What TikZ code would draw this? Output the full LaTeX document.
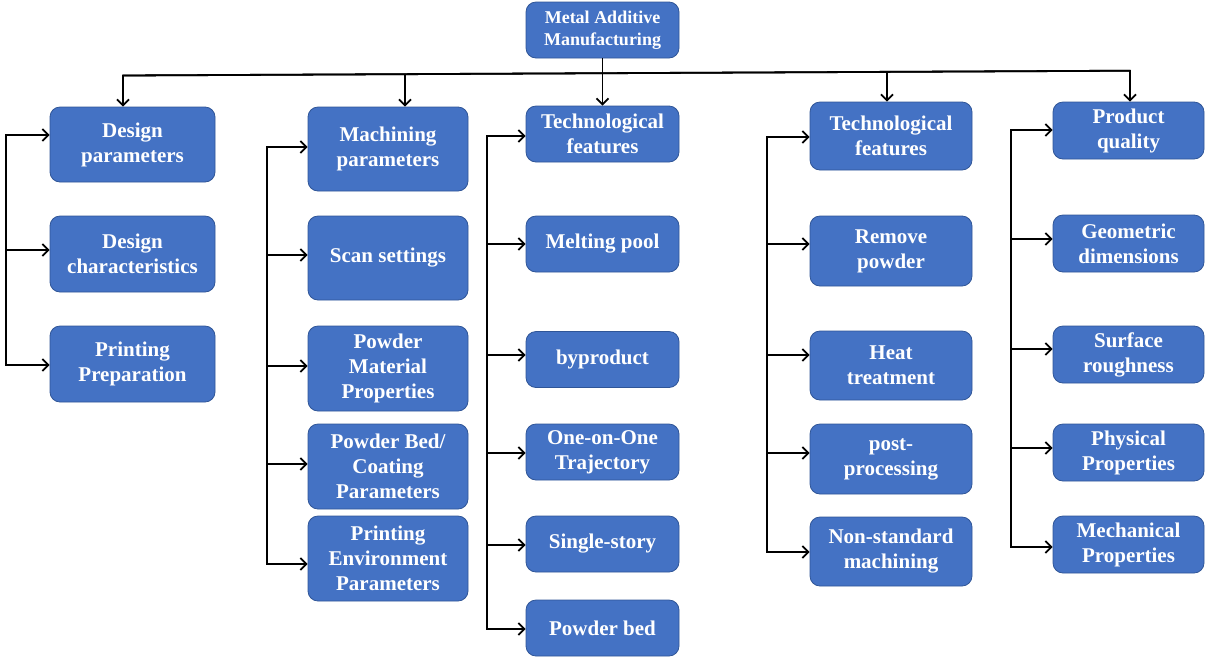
\documentclass[tikz,border=0pt]{standalone}
\usepackage{fontspec}
\setmainfont{Liberation Serif}
\usetikzlibrary{arrows.meta}
\definecolor{boxfill}{HTML}{4472C4}
\definecolor{boxline}{HTML}{2F5597}
\begin{document}
\begin{tikzpicture}[x=1pt,y=-1pt,
  box/.style={draw=boxline, line width=0.8pt, fill=boxfill, rounded corners=10pt, text=white,
    font=\bfseries\fontsize{21}{25}\selectfont, align=center, inner sep=0pt},
  topbox/.style={box, font=\bfseries\fontsize{18}{22}\selectfont},
  ln/.style={line width=1.8pt, line join=miter},
  arr/.style={ln, -{Straight Barb[length=6pt,width=12pt]}}]
\useasboundingbox (0,0) rectangle (1206,657);

% top
\node[topbox, minimum width=153pt, minimum height=56pt] (mam) at (602.5,30) {Metal Additive\\Manufacturing};

% column 1
\node[box, minimum width=165pt, minimum height=75pt] (d1) at (132.5,144.5) {Design\\parameters};
\node[box, minimum width=165pt, minimum height=76pt] (d2) at (132.5,254) {Design\\characteristics};
\node[box, minimum width=165pt, minimum height=76pt] (d3) at (132.5,364) {Printing\\Preparation};

% column 2
\node[box, minimum width=160pt, minimum height=84pt] (m1) at (388,149) {Machining\\parameters};
\node[box, minimum width=160pt, minimum height=84pt] (m2) at (388,258) {Scan settings};
\node[box, minimum width=160pt, minimum height=85pt] (m3) at (388,368.5) {Powder\\Material\\Properties};
\node[box, minimum width=160pt, minimum height=85pt] (m4) at (388,466.5) {Powder Bed/\\Coating\\Parameters};
\node[box, minimum width=160pt, minimum height=85pt] (m5) at (388,558.5) {Printing\\Environment\\Parameters};

% column 3
\node[box, minimum width=153pt, minimum height=56pt] (t1) at (602.5,134) {Technological\\features};
\node[box, minimum width=153pt, minimum height=56pt] (t2) at (602.5,244) {Melting pool};
\node[box, minimum width=153pt, minimum height=56pt] (t3) at (602.5,359.5) {byproduct};
\node[box, minimum width=153pt, minimum height=56pt] (t4) at (602.5,452) {One-on-One\\Trajectory};
\node[box, minimum width=153pt, minimum height=56pt] (t5) at (602.5,544) {Single-story};
\node[box, minimum width=153pt, minimum height=56pt] (t6) at (602.5,628) {Powder bed};

% column 4
\node[box, minimum width=162pt, minimum height=68pt] (f1) at (891,136) {Technological\\features};
\node[box, minimum width=162pt, minimum height=70pt] (f2) at (891,251) {Remove\\powder};
\node[box, minimum width=162pt, minimum height=69pt] (f3) at (891,365.5) {Heat\\treatment};
\node[box, minimum width=162pt, minimum height=70pt] (f4) at (891,459) {post-\\processing};
\node[box, minimum width=162pt, minimum height=69pt] (f5) at (891,551.5) {Non-standard\\machining};

% column 5
\node[box, minimum width=151pt, minimum height=57pt] (p1) at (1128.5,130.5) {Product\\quality};
\node[box, minimum width=151pt, minimum height=57pt] (p2) at (1128.5,243.5) {Geometric\\dimensions};
\node[box, minimum width=151pt, minimum height=57pt] (p3) at (1128.5,354.5) {Surface\\roughness};
\node[box, minimum width=151pt, minimum height=57pt] (p4) at (1128.5,452.5) {Physical\\Properties};
\node[box, minimum width=151pt, minimum height=57pt] (p5) at (1128.5,544.5) {Mechanical\\Properties};

% top distribution line
\coordinate (hl) at (123,75.5);
\coordinate (hr) at (1130,70.7);
\coordinate (h2) at (405,74.2);
\coordinate (h4) at (887,71.9);
\draw[arr] (hr) -- (hl) -- (hl |- d1.north);
\draw[arr] (hl) -- (hr) -- (hr |- p1.north);
\draw[arr] (h2) -- (h2 |- m1.north);
\draw[arr] (h4) -- (h4 |- f1.north);
\draw[arr] (mam.south) -- (t1.north);

% column 1 trunk
\coordinate (a11) at (6,135);
\coordinate (a12) at (6,250);
\coordinate (a13) at (6,365);
\draw[arr] (a13) -- (a11) -- (a11 -| d1.west);
\draw[arr] (a12) -- (a12 -| d2.west);
\draw[arr] (a11) -- (a13) -- (a13 -| d3.west);

% column 2 trunk
\coordinate (a21) at (267,147);
\coordinate (a22) at (267,255);
\coordinate (a23) at (267,366);
\coordinate (a24) at (267,464);
\coordinate (a25) at (267,564);
\draw[arr] (a25) -- (a21) -- (a21 -| m1.west);
\draw[arr] (a22) -- (a22 -| m2.west);
\draw[arr] (a23) -- (a23 -| m3.west);
\draw[arr] (a24) -- (a24 -| m4.west);
\draw[arr] (a21) -- (a25) -- (a25 -| m5.west);

% column 3 trunk
\coordinate (a31) at (487,136);
\coordinate (a32) at (487,244);
\coordinate (a33) at (487,355);
\coordinate (a34) at (487,453);
\coordinate (a35) at (487,545);
\coordinate (a36) at (487,629);
\draw[arr] (a36) -- (a31) -- (a31 -| t1.west);
\draw[arr] (a32) -- (a32 -| t2.west);
\draw[arr] (a33) -- (a33 -| t3.west);
\draw[arr] (a34) -- (a34 -| t4.west);
\draw[arr] (a35) -- (a35 -| t5.west);
\draw[arr] (a31) -- (a36) -- (a36 -| t6.west);

% column 4 trunk
\coordinate (a41) at (767,137);
\coordinate (a42) at (767,244);
\coordinate (a43) at (767,355);
\coordinate (a44) at (767,453);
\coordinate (a45) at (767,552);
\draw[arr] (a45) -- (a41) -- (a41 -| f1.west);
\draw[arr] (a42) -- (a42 -| f2.west);
\draw[arr] (a43) -- (a43 -| f3.west);
\draw[arr] (a44) -- (a44 -| f4.west);
\draw[arr] (a41) -- (a45) -- (a45 -| f5.west);

% column 5 trunk
\coordinate (a51) at (1011,130);
\coordinate (a52) at (1011,239);
\coordinate (a53) at (1011,349);
\coordinate (a54) at (1011,448);
\coordinate (a55) at (1011,547);
\draw[arr] (a55) -- (a51) -- (a51 -| p1.west);
\draw[arr] (a52) -- (a52 -| p2.west);
\draw[arr] (a53) -- (a53 -| p3.west);
\draw[arr] (a54) -- (a54 -| p4.west);
\draw[arr] (a51) -- (a55) -- (a55 -| p5.west);
\end{tikzpicture}
\end{document}
